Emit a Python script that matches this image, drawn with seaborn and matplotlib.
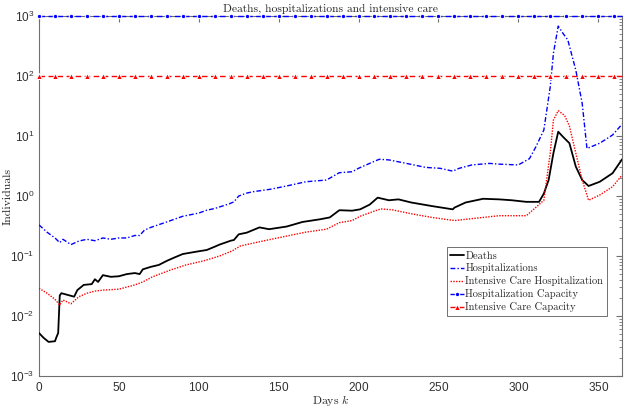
import numpy as np
import pandas as pd
import matplotlib
matplotlib.use("Agg")
import matplotlib.pyplot as plt
import seaborn as sns

# ── Data ─────────────────────────────────────────────────────────────────────
death_days = [0, 3, 6, 10, 11, 12, 13, 14, 22, 24, 28, 33, 35, 37, 40, 45, 50, 55,
              60, 63, 65, 70, 75, 80, 85, 90, 100, 105, 110, 113, 120, 122, 125,
              130, 138, 144, 155, 165, 176, 182, 188, 196, 201, 207, 212, 219, 225,
              233, 246, 259, 260, 267, 278, 288, 296, 305, 313, 316, 319, 322, 325,
              328, 332, 336, 340, 344, 351, 359, 365]
deaths = [0.0052, 0.0043, 0.0037, 0.0038, 0.0045, 0.0052, 0.022, 0.024, 0.021, 0.027,
          0.033, 0.034, 0.041, 0.037, 0.048, 0.045, 0.046, 0.05, 0.052, 0.05, 0.06,
          0.066, 0.071, 0.083, 0.095, 0.108, 0.12, 0.126, 0.143, 0.155, 0.18, 0.185,
          0.23, 0.245, 0.3, 0.28, 0.31, 0.37, 0.41, 0.44, 0.58, 0.57, 0.6, 0.72, 0.94,
          0.85, 0.88, 0.78, 0.68, 0.6, 0.64, 0.78, 0.9, 0.88, 0.85, 0.8, 0.8, 1.1,
          1.85, 5.2, 11.8, 9.7, 7.6, 3.1, 1.85, 1.47, 1.73, 2.4, 4.1]

hosp_days = [0, 5, 10, 13, 15, 20, 25, 30, 35, 40, 45, 50, 55, 60, 63, 66, 70, 80,
             90, 100, 105, 110, 119, 122, 125, 130, 134, 145, 155, 167, 180, 188,
             196, 200, 209, 213, 219, 230, 242, 251, 259, 263, 271, 282, 288, 300,
             307, 311, 316, 320, 322, 325, 328, 331, 336, 340, 343, 351, 359, 365]
hospitalizations = [0.33, 0.25, 0.2, 0.167, 0.19, 0.155, 0.178, 0.19, 0.18, 0.2, 0.19,
                    0.2, 0.2, 0.22, 0.22, 0.27, 0.3, 0.37, 0.46, 0.52, 0.58, 0.62,
                    0.74, 0.8, 1.0, 1.12, 1.18, 1.3, 1.47, 1.73, 1.85, 2.45, 2.54,
                    2.9, 3.7, 4.1, 4.0, 3.5, 3.0, 2.9, 2.6, 2.9, 3.3, 3.5, 3.4, 3.3,
                    4.2, 6.6, 12.6, 66, 240, 680, 515, 400, 126, 35, 6.2, 7.6, 10.4,
                    15.8]

icu_days = [0, 5, 10, 13, 15, 20, 25, 30, 35, 40, 50, 60, 65, 71, 82, 92, 103, 113,
            121, 126, 138, 155, 167, 180, 188, 196, 201, 209, 214, 221, 234, 246,
            260, 271, 288, 305, 309, 316, 320, 322, 325, 329, 332, 336, 340, 344,
            351, 359, 365]
icu = [0.029, 0.024, 0.019, 0.0152, 0.0185, 0.016, 0.021, 0.024, 0.026, 0.027, 0.028,
       0.033, 0.037, 0.045, 0.058, 0.071, 0.083, 0.1, 0.122, 0.147, 0.173, 0.215,
       0.25, 0.28, 0.36, 0.39, 0.46, 0.55, 0.61, 0.59, 0.5, 0.44, 0.39, 0.42, 0.47,
       0.47, 0.58, 0.85, 5.2, 18.5, 26.5, 22, 14.7, 5.2, 1.85, 0.85, 1.04, 1.43, 2.24]

cap_days = [0, 10, 20, 30, 40, 50, 60, 70, 80, 90, 100, 110, 120, 130, 140, 150, 160,
            170, 180, 190, 200, 210, 220, 230, 240, 250, 260, 270, 280, 290, 300, 310,
            320, 330, 340, 350, 360, 365]
hosp_capacity = [1000] * len(cap_days)
icu_capacity = [100] * len(cap_days)

# ── Style ────────────────────────────────────────────────────────────────────
sns.set_style("white")
plt.rcParams["font.family"] = ["Liberation Sans", "DejaVu Sans"]
plt.rcParams["mathtext.fontset"] = "custom"
plt.rcParams["mathtext.rm"] = "Liberation Sans"
plt.rcParams["mathtext.it"] = "cmmi10"
plt.rcParams["axes.formatter.use_mathtext"] = True
serif = "cmr10"
axis_gray = "#707070"

fig = plt.figure(figsize=(6.25, 4.09), dpi=100)
ax = fig.add_axes([0.0624, 0.0807, 0.933, 0.880])

mark_idx = list(range(len(cap_days) - 1))

sns.lineplot(x=death_days, y=deaths, ax=ax, color="black", linewidth=1.3,
             linestyle="-", label="Deaths")
sns.lineplot(x=hosp_days, y=hospitalizations, ax=ax, color="#0000ff", linewidth=1.0,
             linestyle=(0, (3.5, 1.5, 1, 1.5)), label="Hospitalizations")
sns.lineplot(x=icu_days, y=icu, ax=ax, color="#ff0000", linewidth=1.0,
             linestyle=(0, (1, 1)), label="Intensive Care Hospitalization")
sns.lineplot(x=cap_days, y=hosp_capacity, ax=ax, color="#0000ff", linewidth=1.0,
             linestyle=(0, (4, 2.5)), marker="o", markersize=3.2, markevery=mark_idx,
             clip_on=False, label="Hospitalization Capacity")
sns.lineplot(x=cap_days, y=icu_capacity, ax=ax, color="#ff0000", linewidth=1.0,
             linestyle=(0, (4, 2.5)), marker="^", markersize=4, markevery=mark_idx,
             markerfacecolor="#ff0000", clip_on=False,
             label="Intensive Care Capacity")

ax.set_yscale("log")
ax.set_xlim(0, 365)
ax.set_ylim(1e-3, 1e3)
ax.set_xticks([0, 50, 100, 150, 200, 250, 300, 350])
ax.set_yticks([1e-3, 1e-2, 1e-1, 1e0, 1e1, 1e2, 1e3])

ax.tick_params(which="both", direction="in", top=True, right=True,
               colors="#303030", labelsize=8.5)
ax.tick_params(which="major", length=4, color=axis_gray)
ax.tick_params(which="minor", length=2, color=axis_gray)
for s in ax.spines.values():
    s.set_color(axis_gray)
    s.set_linewidth(0.8)
    s.set_zorder(0)

ax.set_title("Deaths, hospitalizations and intensive care", fontfamily=serif,
             fontsize=8.3, pad=3)
ax.set_ylabel("Individuals", fontfamily=serif, fontsize=8.5)
ax.set_xlabel("Days $k$", fontfamily=serif, fontsize=8.5)
ax.yaxis.set_label_coords(-0.046, 0.5)
ax.xaxis.set_label_coords(0.5, -0.048)

leg = ax.legend(loc="lower right", bbox_to_anchor=(0.974, 0.167),
                prop={"family": serif, "size": 7.5}, frameon=True, fancybox=False,
                handlelength=1.3, handletextpad=0.15, borderpad=0.35,
                labelspacing=0.28, borderaxespad=0)
leg.get_frame().set_edgecolor("#303030")
leg.get_frame().set_linewidth(0.6)

fig.savefig("out.png", dpi=100)
plt.close(fig)
